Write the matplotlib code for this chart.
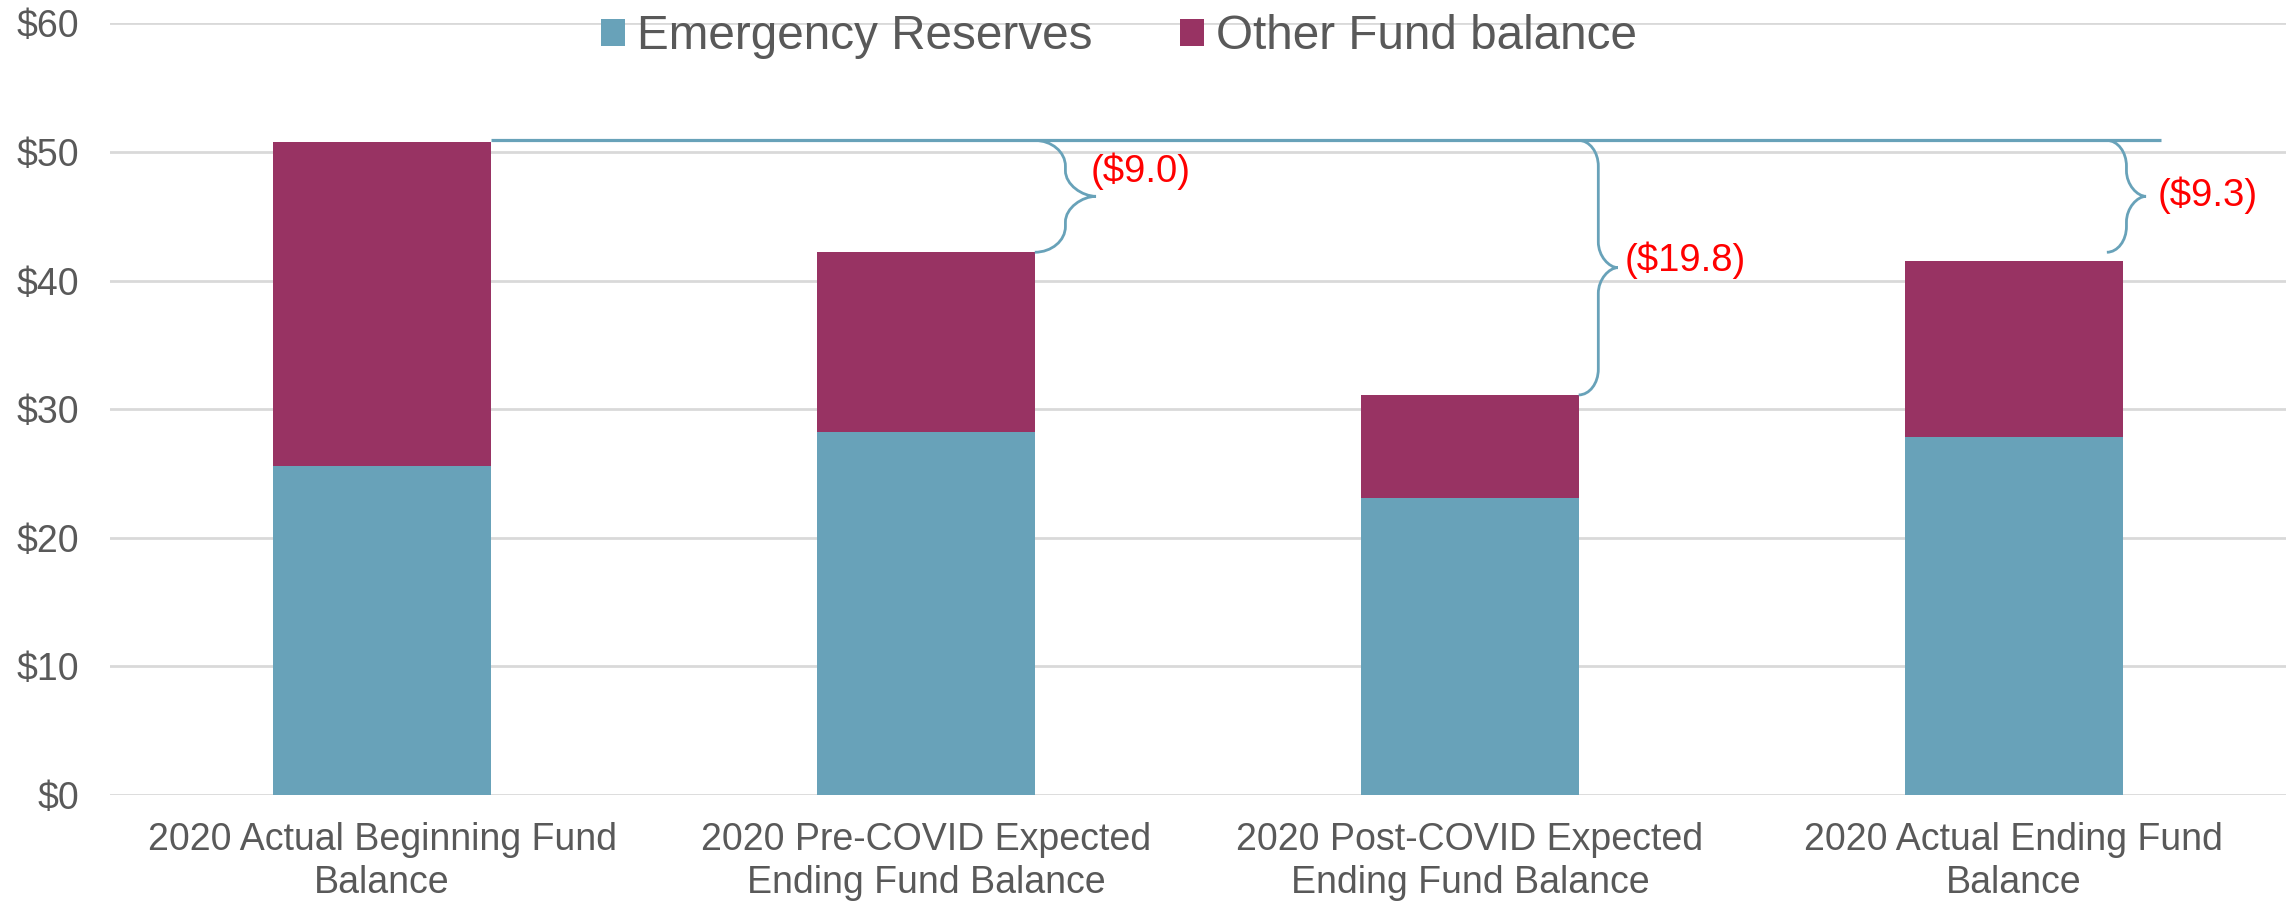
import matplotlib
matplotlib.use("Agg")
import matplotlib.pyplot as plt
from matplotlib.path import Path
from matplotlib.patches import PathPatch
import numpy as np

# data ($ millions)
categories = ["2020 Actual Beginning Fund\nBalance",
              "2020 Pre-COVID Expected\nEnding Fund Balance",
              "2020 Post-COVID Expected\nEnding Fund Balance",
              "2020 Actual Ending Fund\nBalance"]
emergency_reserves = [25.6, 28.2, 23.1, 27.8]
other_fund_balance = [25.2, 14.0, 8.0, 13.7]

# reference line (beginning balance) and the gaps shown with braces
reference_level = 50.9
brace_bottoms = [42.2, 31.1, 42.2]
brace_labels = ["($9.0)", "($19.8)", "($9.3)"]

teal = "#68a2b9"
purple = "#983363"
grey_text = "#595959"

plt.rcParams['font.family'] = ['Liberation Sans', 'DejaVu Sans']

fig = plt.figure(figsize=(22.95, 9.02), dpi=100)
ax = fig.add_axes([0.048, 0.119, 0.948, 0.855])

x = np.arange(len(categories))
w = 0.4
b1 = ax.bar(x, emergency_reserves, w, color=teal, label="Emergency Reserves", zorder=3)
b2 = ax.bar(x, other_fund_balance, w, bottom=emergency_reserves, color=purple,
            label="Other Fund balance", zorder=3)

ax.set_xlim(-0.5, 3.5)
ax.set_ylim(0, 60)
ax.set_yticks(np.arange(0, 61, 10))
ax.set_yticklabels(["$%d" % v for v in range(0, 61, 10)])
ax.set_xticks(x)
ax.set_xticklabels(categories, linespacing=1.22)
ax.tick_params(axis='both', length=0, labelsize=27, colors=grey_text)
ax.tick_params(axis='x', pad=20)
ax.tick_params(axis='y', pad=22)
ax.grid(axis='y', color='#d9d9d9', lw=2, zorder=0)
for s in ax.spines.values():
    s.set_visible(False)

# horizontal reference line from the first bar
ax.plot([w / 2, 3.27], [reference_level, reference_level], color=teal, lw=2.3,
        zorder=4, solid_capstyle='butt')


def brace(x0, width, top, bottom):
    # right-facing curly brace, rounded quarter curves joined by straight parts
    k = 0.55
    mid = (top + bottom) / 2
    c = min(2.0, (top - bottom) / 4)
    xm = x0 + width / 2
    tip = x0 + width
    h = xm - x0
    verts = [(x0, top), (x0 + k * h, top), (xm, top - (1 - k) * c), (xm, top - c),
             (xm, mid + c),
             (xm, mid + (1 - k) * c), (xm + k * h, mid), (tip, mid),
             (xm + k * h, mid), (xm, mid - (1 - k) * c), (xm, mid - c),
             (xm, bottom + c),
             (xm, bottom + (1 - k) * c), (x0 + k * h, bottom), (x0, bottom)]
    codes = [Path.MOVETO, Path.CURVE4, Path.CURVE4, Path.CURVE4,
             Path.LINETO,
             Path.CURVE4, Path.CURVE4, Path.CURVE4,
             Path.CURVE4, Path.CURVE4, Path.CURVE4,
             Path.LINETO,
             Path.CURVE4, Path.CURVE4, Path.CURVE4]
    return PathPatch(Path(verts, codes), fill=False, edgecolor=teal, lw=2.0, zorder=4)


brace_x = [1.2, 2.2, 3.171]
brace_w = [0.1125, 0.072, 0.072]
label_x = [1.303, 2.285, 3.265]
label_y = [48.5, 41.6, 46.6]
for i in range(3):
    ax.add_patch(brace(brace_x[i], brace_w[i], reference_level, brace_bottoms[i]))
    ax.text(label_x[i], label_y[i], brace_labels[i], color='red', fontsize=27.5,
            va='center', ha='left')

fig.legend(handles=[b1, b2], loc='center', bbox_to_anchor=(0.4876, 0.959), ncol=2,
           frameon=False, fontsize=34.3, labelcolor=grey_text, handlelength=0.5,
           handleheight=0.5, handletextpad=0.25, columnspacing=1.85)

plt.savefig('out.png', dpi=100)
